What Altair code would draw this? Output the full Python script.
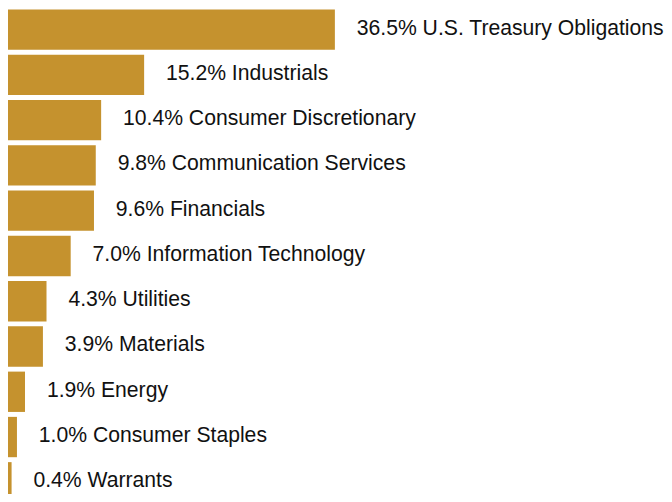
import altair as alt
import pandas as pd

categories = ["U.S. Treasury Obligations", "Industrials", "Consumer Discretionary",
              "Communication Services", "Financials", "Information Technology",
              "Utilities", "Materials", "Energy", "Consumer Staples", "Warrants"]
values = [36.5, 15.2, 10.4, 9.8, 9.6, 7.0, 4.3, 3.9, 1.9, 1.0, 0.4]

df = pd.DataFrame({"cat": categories, "val": values})
df["label"] = [f"{v:.1f}% {c}" for v, c in zip(values, categories)]

y = alt.Y("cat:N", sort=categories, axis=None,
          scale=alt.Scale(paddingInner=0.109, paddingOuter=0, range=[0, 496]))
x = alt.X("val:Q", axis=None, scale=alt.Scale(domain=[0, 73.25], nice=False, zero=True))

bars = alt.Chart(df).mark_bar(color="#C5922E").encode(x=x, y=y)
text = alt.Chart(df).mark_text(align="left", baseline="middle", dx=22, dy=-1,
                               font="Liberation Sans", fontSize=21.3, color="#111111").encode(
    x=x, y=y, text="label:N")

chart = (bars + text).properties(width=660, height=486, padding=0,
                                 autosize=alt.AutoSizeParams(type="none")).configure_view(stroke=None)
chart.save("out.html", embed_options={"renderer": "svg", "actions": False})
